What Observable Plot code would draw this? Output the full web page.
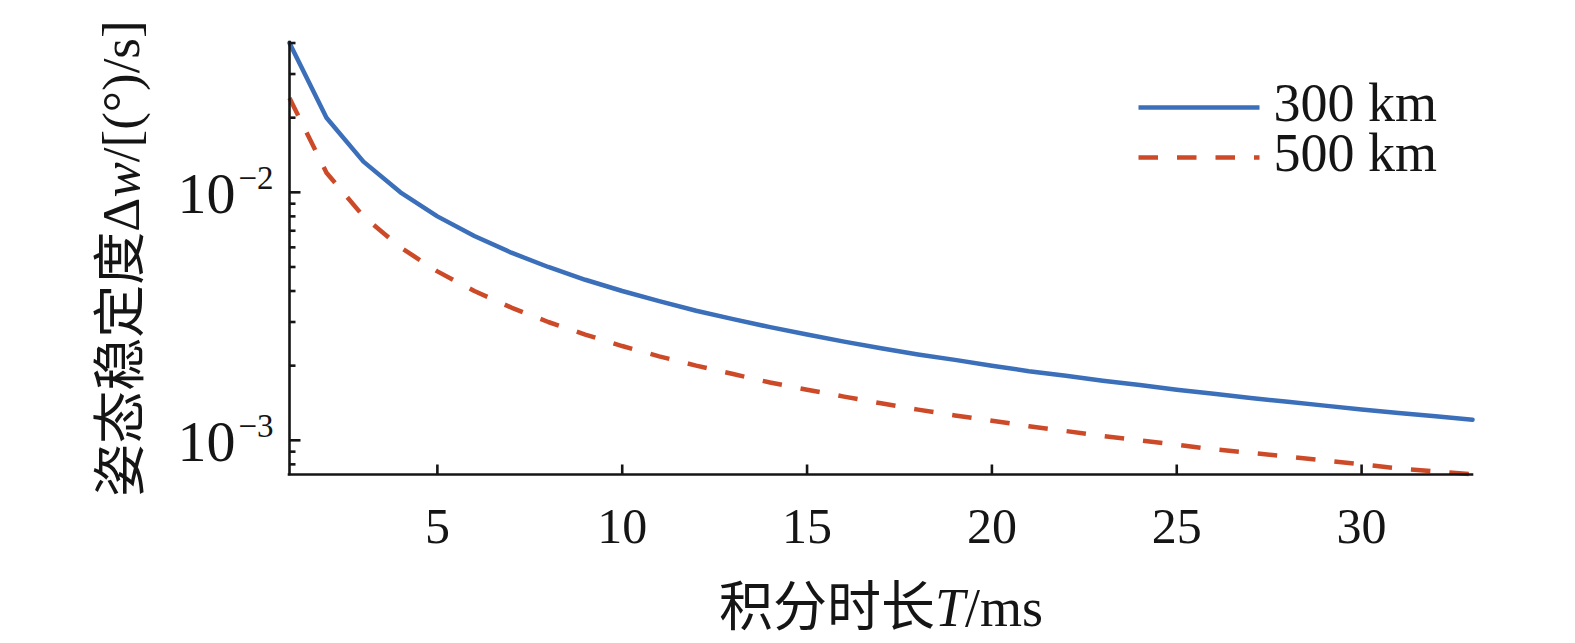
<!DOCTYPE html>
<html>
<head>
<meta charset="utf-8">
<script src="https://cdn.jsdelivr.net/npm/d3@7"></script>
<script src="https://cdn.jsdelivr.net/npm/@observablehq/plot@0.6"></script>
<style>
  html, body { margin: 0; padding: 0; background: #fff; }
</style>
</head>
<body>
<div id="chart"></div>
<script>
// ---- data ----
const T = [1,2,3,4,5,6,7,8,9,10,11,12,13,14,15,16,17,18,19,20,21,22,23,24,25,26,27,28,29,30,31,32,33];
const v300 = [0.0400,0.0200,0.0133,0.0100,0.0080,0.00667,0.00571,0.0050,0.00444,0.0040,0.00364,0.00333,0.00308,0.00286,0.00267,0.00250,0.00235,0.00222,0.00211,0.00200,0.00190,0.00182,0.00174,0.00167,0.00160,0.00154,0.00148,0.00143,0.00138,0.00133,0.00129,0.00125,0.00121];
const v500 = [0.0240,0.0120,0.0080,0.0060,0.0048,0.0040,0.00343,0.0030,0.00267,0.0024,0.00218,0.0020,0.00185,0.00171,0.0016,0.0015,0.00141,0.00133,0.00126,0.0012,0.00114,0.00109,0.00104,0.0010,0.00096,0.00092,0.00089,0.00086,0.00083,0.0008,0.00077,0.00075,0.00073];
const seriesNames = ["300 km", "500 km"];
const xTicks = [5, 10, 15, 20, 25, 30];
const yMajor = [1e-3, 1e-2];
const yMajorBase = ["10", "10"];
const yMajorExp = ["\u22123", "\u22122"];
const yMinor = [8e-4, 9e-4, 2e-3, 3e-3, 4e-3, 5e-3, 6e-3, 7e-3, 8e-3, 9e-3, 2e-2, 3e-2, 4e-2];
const xLabelParts = [["积分时长", false], ["T", true], ["/ms", false]];
const yLabelParts = [["姿态稳定度Δ", false], ["w", true], ["/[(°)/s]", false]];

// ---- build tables ----
const d300 = T.map((t, i) => ({t, v: v300[i]}));
const d500 = T.map((t, i) => ({t, v: v500[i]}));
const xLabel = xLabelParts.map(p => p[0]).join("");
const yLabel = yLabelParts.map(p => p[0]).join("");

const FONT = "'Liberation Serif', 'Times New Roman', 'Noto Sans CJK SC', serif";
const BLUE = "#3b6fba", RED = "#cc4a28", INK = "#151515";
const lineShape = {draw(ctx, l) { ctx.moveTo(0, 0); ctx.lineTo(0, -l); }};
const axisW = 2.6;

const plot = Plot.plot({
  width: 1575,
  height: 643,
  marginLeft: 289,
  marginRight: 103,
  marginTop: 42,
  marginBottom: 169,
  x: {domain: [1, 33], axis: null},
  y: {type: "log", domain: [7.28e-4, 0.0402], axis: null},
  style: {fontFamily: FONT, background: "#fff", color: INK, overflow: "visible"},
  marks: [
    Plot.line(d300, {x: "t", y: "v", stroke: BLUE, strokeWidth: 4.5, strokeLinejoin: "round"}),
    Plot.line(d500, {x: "t", y: "v", stroke: RED, strokeWidth: 4.5, strokeDasharray: "19.5,19", strokeLinecap: "butt"}),
    // axis lines
    Plot.ruleX([1], {stroke: INK, strokeWidth: axisW, strokeLinecap: "square"}),
    Plot.ruleY([7.28e-4], {stroke: INK, strokeWidth: axisW, strokeLinecap: "square"}),
    // inward ticks
    Plot.vector(yMajor, {y: d => d, frameAnchor: "left", rotate: 90, length: 11, anchor: "start", shape: lineShape, stroke: INK, strokeWidth: axisW, strokeLinecap: "butt"}),
    Plot.vector(yMinor, {y: d => d, frameAnchor: "left", rotate: 90, length: 6, anchor: "start", shape: lineShape, stroke: INK, strokeWidth: axisW, strokeLinecap: "butt"}),
    Plot.vector(xTicks, {x: d => d, frameAnchor: "bottom", rotate: 0, length: 10, anchor: "start", shape: lineShape, stroke: INK, strokeWidth: axisW, strokeLinecap: "butt"}),
    // tick labels
    Plot.text(xTicks, {x: d => d, frameAnchor: "bottom", text: d => String(d), textAnchor: "middle", lineAnchor: "bottom", dy: 68, fontSize: 50, fill: INK}),
    Plot.text(yMajor, {y: d => d, frameAnchor: "left", text: (d, i) => yMajorBase[i], textAnchor: "end", lineAnchor: "bottom", dx: -54, dy: 21, fontSize: 58, fill: INK}),
    Plot.text(yMajor, {y: d => d, frameAnchor: "left", text: (d, i) => yMajorExp[i], textAnchor: "start", lineAnchor: "bottom", dx: -51, dy: -3, fontSize: 33, fill: INK}),
    // axis titles
    Plot.text([xLabel], {frameAnchor: "bottom", text: d => d, textAnchor: "middle", lineAnchor: "bottom", dy: 151, fontSize: 54, fill: INK}),
    Plot.text([yLabel], {frameAnchor: "left", rotate: -90, text: d => d, textAnchor: "middle", lineAnchor: "middle", dx: -167, fontSize: 53, fill: INK}),
    // legend
    Plot.vector([seriesNames[0]], {frameAnchor: "top-right", dx: -213, dy: 65, rotate: 90, length: 121, anchor: "end", shape: lineShape, stroke: BLUE, strokeWidth: 4.5, strokeLinecap: "butt"}),
    Plot.vector([seriesNames[1]], {frameAnchor: "top-right", dx: -213, dy: 115, rotate: 90, length: 121, anchor: "end", shape: lineShape, stroke: RED, strokeWidth: 4.5, strokeLinecap: "butt", strokeDasharray: "19.5,19"}),
    Plot.text([seriesNames[0]], {frameAnchor: "top-right", text: d => d, textAnchor: "start", lineAnchor: "bottom", dx: -199, dy: 78, fontSize: 54, fill: INK}),
    Plot.text([seriesNames[1]], {frameAnchor: "top-right", text: d => d, textAnchor: "start", lineAnchor: "bottom", dx: -199, dy: 128, fontSize: 54, fill: INK})
  ]
});

// rich text (italic variables) for the axis titles
function richLabel(svg, plain, parts) {
  for (const t of svg.querySelectorAll("text")) {
    if (t.textContent === plain) {
      t.textContent = "";
      for (const [s, it] of parts) {
        const ts = document.createElementNS("http://www.w3.org/2000/svg", "tspan");
        ts.textContent = s;
        if (it) ts.setAttribute("font-style", "italic");
        t.appendChild(ts);
      }
    }
  }
}
richLabel(plot, xLabel, xLabelParts);
richLabel(plot, yLabel, yLabelParts);

document.getElementById("chart").appendChild(plot);
</script>
</body>
</html>
